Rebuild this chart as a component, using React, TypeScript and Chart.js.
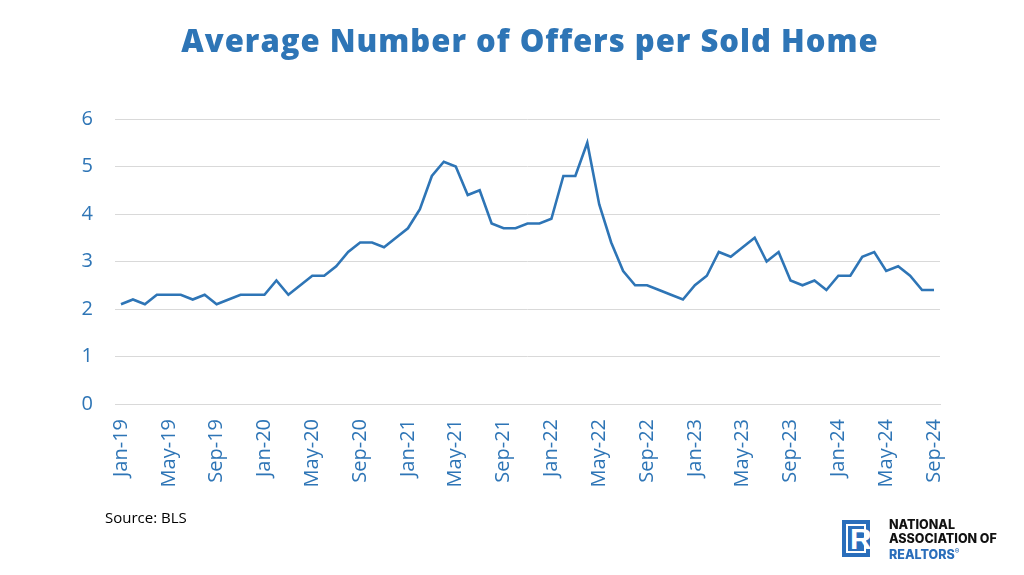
import React, { useEffect, useRef } from "react";
import { Chart, registerables } from "chart.js";

Chart.register(...registerables);

const MONTHS = ["Jan", "Feb", "Mar", "Apr", "May", "Jun", "Jul", "Aug", "Sep", "Oct", "Nov", "Dec"];
const YEARS = ["19", "20", "21", "22", "23", "24"];
const categories: string[] = [];
YEARS.forEach((y) => MONTHS.forEach((m) => categories.push(`${m}-${y}`)));
categories.splice(69);

const offers2019 = [2.1, 2.2, 2.1, 2.3, 2.3, 2.3, 2.2, 2.3, 2.1, 2.2, 2.3, 2.3];
const offers2020 = [2.3, 2.6, 2.3, 2.5, 2.7, 2.7, 2.9, 3.2, 3.4, 3.4, 3.3, 3.5];
const offers2021 = [3.7, 4.1, 4.8, 5.1, 5.0, 4.4, 4.5, 3.8, 3.7, 3.7, 3.8, 3.8];
const offers2022 = [3.9, 4.8, 4.8, 5.5, 4.2, 3.4, 2.8, 2.5, 2.5, 2.4, 2.3, 2.2];
const offers2023 = [2.5, 2.7, 3.2, 3.1, 3.3, 3.5, 3.0, 3.2, 2.6, 2.5, 2.6, 2.4];
const offers2024 = [2.7, 2.7, 3.1, 3.2, 2.8, 2.9, 2.7, 2.4, 2.4];
const offers = [...offers2019, ...offers2020, ...offers2021, ...offers2022, ...offers2023, ...offers2024];

const yTicks = [0, 1, 2, 3, 4, 5, 6];
const TITLE = "Average Number of Offers per Sold Home";
const SOURCE = "Source: BLS";

const BLUE = "#2E75B6";
const FONT = "'Open Sans', 'Noto Sans', sans-serif";

export default function App() {
  const ref = useRef<HTMLCanvasElement | null>(null);

  useEffect(() => {
    if (!ref.current) return;
    const chart = new Chart(ref.current, {
      type: "line",
      data: {
        labels: categories,
        datasets: [
          {
            data: offers,
            borderColor: BLUE,
            borderWidth: 2.6,
            pointRadius: 0,
            tension: 0,
            fill: false,
          },
        ],
      },
      options: {
        animation: false,
        responsive: false,
        devicePixelRatio: 1,
        layout: { padding: { left: 50, right: 84, top: 119, bottom: 0 } },
        plugins: { legend: { display: false }, tooltip: { enabled: false }, title: { display: false } },
        scales: {
          x: {
            offset: true,
            grid: { display: false, drawTicks: false },
            border: { display: true, color: "#D9D9D9", width: 1 },
            ticks: {
              autoSkip: false,
              maxRotation: 90,
              minRotation: 90,
              padding: 15,
              color: BLUE,
              font: { family: FONT, size: 20 },
              callback: (_v: any, i: number) => (i % 4 === 0 ? categories[i] : ""),
            },
            afterFit: (s: any) => {
              s.height = 171;
            },
          },
          y: {
            min: yTicks[0],
            max: yTicks[yTicks.length - 1],
            afterBuildTicks: (s: any) => {
              s.ticks = yTicks.map((v) => ({ value: v }));
            },
            grid: { color: "#D9D9D9", lineWidth: 1, drawTicks: false },
            border: { display: false },
            ticks: {
              padding: 22,
              color: BLUE,
              font: { family: FONT, size: 20 },
            },
            afterFit: (s: any) => {
              s.width = 65;
            },
          },
        },
      },
    });
    return () => chart.destroy();
  }, []);

  return (
    <div style={{ position: "absolute", left: 0, top: 0, width: 1024, height: 575, background: "#fff", overflow: "hidden" }}>
      <canvas ref={ref} width={1024} height={575} style={{ position: "absolute", left: 0, top: 0, width: 1024, height: 575 }} />
      <div
        style={{
          position: "absolute",
          left: 0,
          width: 1060,
          top: 19,
          textAlign: "center",
          fontFamily: FONT,
          fontWeight: 800,
          fontSize: 31,
          letterSpacing: 1,
          color: BLUE,
          whiteSpace: "nowrap",
        }}
      >
        {TITLE}
      </div>
      <div style={{ position: "absolute", left: 105, top: 507, fontFamily: FONT, fontSize: 15, color: "#000" }}>{SOURCE}</div>
      <div
        style={{
          position: "absolute",
          left: 842,
          top: 520,
          width: 28,
          height: 37,
          background: "#2A6EBB",
          overflow: "hidden",
        }}
      >
        <div style={{ position: "absolute", left: 4, top: 4, width: 20, height: 29, border: "2px solid #fff", boxSizing: "border-box" }} />
        <div
          style={{
            position: "absolute",
            left: 8,
            top: 0,
            fontFamily: "'Liberation Sans', sans-serif",
            fontWeight: 700,
            fontSize: 30,
            lineHeight: "37px",
            color: "#fff",
          }}
        >
          R
        </div>
      </div>
      <div
        style={{
          position: "absolute",
          left: 889,
          top: 518,
          fontFamily: "Inter, 'Liberation Sans', sans-serif",
          fontWeight: 800,
          fontSize: 12.5,
          lineHeight: "13.5px",
          color: "#111",
          whiteSpace: "nowrap",
        }}
      >
        <div>NATIONAL</div>
        <div>ASSOCIATION OF</div>
        <div style={{ color: "#2A6EBB" }}>
          REALTORS<sup style={{ fontSize: 7 }}>®</sup>
        </div>
      </div>
    </div>
  );
}
